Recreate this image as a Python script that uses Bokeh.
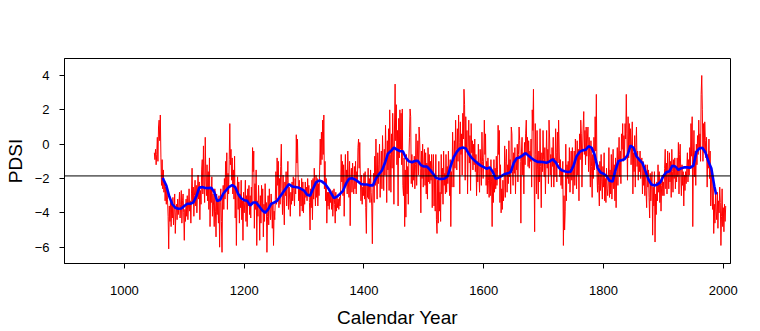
from bokeh.plotting import figure
from bokeh.models import ColumnDataSource, Span, FixedTicker
from bokeh.embed import file_html
from bokeh.resources import INLINE

# ---- data ----
first_year = 1050
pdsi_annual = [
    -0.5, -0.9, -0.3, -1.2, -0.6, 0.4, -1.0, 1.0, 1.4, 0.2,
    1.7, -0.8, -2.4, -0.9, -2.6, -1.5, -2.8, -2.1, -3.3, -2.5,
    -3.5, -2.6, -3.2, -4.2, -6.1, -3.6, -4.5, -3.2, -4.8, -3.4,
    -4.3, -3.1, -4.7, -3.8, -2.9, -5.2, -4.0, -3.5, -4.4, -3.2,
    -4.1, -3.6, -2.8, -4.3, -3.5, -2.7, -4.6, -3.3, -2.9, -4.0,
    -5.6, -3.8, -4.5, -3.2, -4.2, -3.0, -4.4, -3.6, -2.6, -3.9,
    -3.3, -4.6, -2.9, -1.4, -3.4, -2.5, -4.2, -3.0, -2.1, -3.6,
    -2.4, -4.0, -2.8, -1.8, -3.2, -2.2, -4.4, -2.7, -3.5, -1.5,
    -0.9, -2.9, -0.1, -2.4, -3.4, 0.4, -1.9, -3.0, -1.2, -3.3,
    -1.6, -3.8, -0.8, -4.8, -2.6, -3.4, -1.9, -4.2, -2.9, -3.6,
    -4.8, -2.6, -3.9, -5.4, -2.9, -4.1, -3.3, -4.6, -3.0, -6.0,
    -3.4, -2.6, -4.5, -6.3, -3.1, -2.4, -3.8, -2.0, -3.2, -1.0,
    -2.6, -0.5, -3.8, -1.7, -2.9, -0.9, 1.2, -1.2, -0.3, -2.1,
    -0.8, -2.9, -1.5, -3.2, -0.7, -4.3, -2.6, -5.9, -3.1, -1.9,
    -3.8, -2.2, -4.6, -2.9, -3.7, -2.1, -4.4, -3.3, -5.6, -2.8,
    -4.0, -3.4, -2.1, -4.5, -3.0, -4.8, -2.6, -3.6, -2.4, -4.1,
    -3.0, -4.3, -2.5, -3.5, -0.2, -1.6, -0.4, -4.9, -2.3, -3.8,
    -1.5, -5.9, -3.3, -4.2, -2.4, -3.6, -5.6, -3.0, -4.6, -2.4,
    -3.9, -2.6, -5.4, -3.5, -4.5, -2.3, -4.0, -3.4, -6.3, -4.2,
    -3.0, -4.7, -2.6, -3.8, -4.4, -2.9, -3.6, -4.9, -3.4, -5.9,
    -3.9, -4.4, -3.2, -1.6, -3.5, -0.8, -2.4, -1.0, -3.7, -2.0,
    -3.5, -1.3, 0.0, -2.6, -4.1, -1.8, -3.3, -4.7, -2.2, -3.0,
    -1.6, -3.6, -2.1, -1.0, -3.8, -2.5, -3.2, -4.2, -2.8, -3.5,
    -2.2, -3.3, -1.9, -2.7, -3.6, -2.0, -2.9, 0.55, -1.1, 0.3,
    -1.8, -3.3, -2.1, -4.2, -2.5, -3.6, -2.0, -3.9, -2.2, -4.0,
    -2.7, -3.5, -2.2, -3.1, -2.5, -3.3, -2.0, -3.0, -2.4, -3.4,
    -5.0, -2.6, -3.7, -2.1, -4.4, -2.0, -3.2, -1.4, -2.5, -3.6,
    -1.8, -3.1, -2.0, -3.6, -2.3, -3.0, -1.5, 0.3, -1.2, 0.7,
    -0.9, 1.4, -0.6, 1.7, -2.6, -1.0, -3.3, -2.0, -4.6, -2.8,
    -3.6, -2.8, -3.8, -2.6, -3.4, -2.9, -3.8, -2.7, -4.2, -3.2,
    -2.6, -3.5, -4.6, -2.8, -3.9, -3.1, -3.7, -3.2, -3.8, -3.1,
    -3.6, -2.9, -0.6, -2.2, -1.0, -3.0, -1.2, -4.2, -1.9, -0.6,
    -2.4, -1.5, -2.9, -0.4, -2.2, -3.1, -1.0, -4.75, -2.0, -1.4,
    -2.8, -1.1, -2.5, -2.9, -1.3, -2.6, -1.0, -2.9, -1.6, -2.2,
    -0.2, 0.3, -1.4, 0.1, -2.1, -3.3, -1.8, -3.5, -2.5, -3.0,
    -1.7, -3.2, -1.6, -3.7, -5.2, -2.4, -3.1, -1.4, -3.2, -2.0,
    -3.4, -1.5, -2.8, -3.6, -5.8, -2.6, -1.7, -3.4, -0.7, -2.4,
    0.3, -1.9, -3.2, -0.5, -2.3, -1.2, 0.0, -3.1, -1.6, -0.4,
    -2.6, 0.5, -1.1, -2.7, -0.3, -1.8, 1.1, -0.8, -3.4, 0.2,
    -1.5, 0.9, -2.7, 2.0, -0.6, -2.8, 0.6, -1.4, 1.8, -0.2,
    -3.5, 1.0, 3.5, 0.2, 2.3, -1.2, 0.8, -3.6, 1.5, -0.8,
    2.0, -0.3, 1.8, -1.2, 2.05, -2.4, -3.0, -0.8, -4.8, -1.5,
    -4.25, -0.6, -2.9, -1.3, -3.5, -0.8, 0.4, 2.05, 1.6, -2.3,
    -0.6, -2.5, -1.0, -2.1, -0.7, -2.6, -1.2, 0.6, -2.4, -0.9,
    0.2, -1.8, 1.0, 0.3, -1.4, -4.0, -0.4, -2.0, 0.0, -2.5,
    -1.2, -0.3, -2.4, -0.5, -2.9, -1.1, -3.2, -0.2, -2.2, -0.6,
    -2.3, -1.0, -2.1, -0.6, -3.7, -1.4, -0.6, -3.6, -1.9, -3.9,
    -0.6, -4.4, -5.2, -2.1, -4.6, -1.0, -3.9, -2.8, -4.5, -0.6,
    -2.9, -1.4, -3.5, -0.4, -2.4, -1.7, -2.9, -0.6, -2.8, -1.3,
    -2.3, -0.4, -1.9, -3.0, -0.9, -4.8, -1.6, -2.5, 0.7, -0.8,
    -2.5, 0.2, -1.4, 1.4, -0.3, -1.5, 0.9, -1.0, 1.7, 0.1,
    -2.9, 1.3, -0.6, 0.6, -1.8, 1.8, 0.3, 3.2, 2.3, -2.1,
    1.6, -0.4, 0.8, -2.9, -0.2, 1.4, -1.1, 0.5, -2.7, 1.2,
    -0.5, 0.2, -1.5, 0.0, -1.2, 0.3, -1.6, -0.6, -3.0, -1.0,
    -2.2, 0.0, -1.7, -2.8, -0.3, -1.2, -2.4, 0.7, -1.0, -2.0,
    -0.8, 1.4, -0.6, 0.6, -2.4, -1.0, -2.9, -0.8, -2.1, -3.1,
    -1.4, -3.0, -0.9, -2.2, -4.8, -1.8, -3.4, -0.9, -2.8, -1.4,
    -2.6, -0.7, -2.4, -1.5, 1.1, -0.6, 0.8, -3.4, -1.2, -4.0,
    -2.6, -3.8, -2.1, -3.3, -2.5, -0.1, -3.1, -1.0, -0.3, -2.8,
    -1.2, -2.3, 0.2, -1.9, -0.9, -2.9, 1.0, 0.6, -1.6, -2.4,
    -0.5, -1.7, -0.2, -2.9, -0.9, -1.5, 0.0, -2.2, -0.6, 1.0,
    0.2, -1.0, -4.6, -0.4, 0.4, -1.8, -0.5, -2.9, 0.1, -1.2,
    0.6, 1.4, -0.6, 0.4, -1.3, 0.2, -1.4, -0.4, -1.0, 0.3,
    -2.5, 2.0, 0.8, 3.2, -1.2, -5.1, 1.2, -0.6, -2.9, 0.8,
    -1.5, -3.2, -0.4, -2.2, 0.9, -1.3, -3.7, -0.5, -1.6, 0.8,
    -0.9, -1.9, -0.2, -2.9, -1.0, 0.8, -1.4, -0.3, -2.3, 1.4,
    0.3, -1.8, -0.6, -2.5, -0.2, -1.3, 0.4, -2.5, -0.8, -1.9,
    0.9, -0.5, -2.2, 0.7, -1.1, 1.4, -0.4, -1.9, -0.9, -2.4,
    -1.5, -2.6, -1.0, -5.9, -3.0, -5.0, -3.9, 0.0, -3.3, -1.2,
    -2.0, -1.0, -2.3, -0.2, -2.8, -1.4, -0.4, -2.1, -0.2, -2.9,
    -1.5, -0.4, -2.4, 0.3, -1.0, -2.6, 0.2, -1.8, -0.3, -3.3,
    0.6, -0.9, 1.4, 0.6, -2.5, -0.4, 1.0, 1.9, -0.6, 0.8,
    -1.2, 1.0, -0.7, 0.3, 1.0, -1.6, 0.4, -0.8, -2.5, 0.2,
    -1.3, -3.1, -0.6, -2.0, 0.4, -1.5, 1.6, -0.4, 2.9, -1.6,
    -2.8, -1.2, -2.4, -3.6, -1.0, -2.7, -0.6, -2.2, -3.2, -1.3,
    -2.5, -0.5, -3.3, -2.0, -3.4, -1.4, -2.6, -3.0, -2.2, -0.2,
    -3.1, -1.5, -2.9, -0.6, -3.2, -1.8, -0.3, -2.6, -1.2, -3.3,
    -0.8, -3.7, -1.6, -0.2, -2.4, -0.9, 0.4, -1.9, -0.4, -2.3,
    0.6, -0.3, 1.2, -1.0, 0.5, -0.9, 1.2, 0.3, 2.9, 0.6,
    -2.1, 1.6, -0.8, 1.2, -0.3, 0.9, -1.2, 0.0, 1.3, -2.9,
    -0.5, -1.6, 0.5, -2.5, -0.2, 1.0, -1.3, -0.4, -2.1, -0.8,
    -1.6, -0.4, -2.0, -1.1, -0.8, -2.9, -1.0, -2.4, -1.3, -3.0,
    -1.2, -2.7, -3.7, -1.2, -2.5, -1.5, -3.1, -4.3, -1.7, -3.3,
    -2.2, -1.6, -5.3, -2.5, -3.6, -1.6, -5.7, -2.9, -4.1, -2.2,
    -3.3, -1.2, -2.8, -1.6, -3.4, -2.1, -3.9, -2.4, -1.8, -3.0,
    -2.2, -3.0, -1.4, -0.3, -2.6, -1.1, -2.9, -0.4, -1.7, -2.6,
    -0.5, -2.2, -1.0, -3.1, -0.3, -1.6, -2.8, -0.9, -2.0, -0.8,
    -2.6, -1.4, -2.2, -0.8, -1.9, 0.1, -2.9, -0.6, 0.0, -1.8,
    -3.0, -1.2, -2.4, -1.6, -3.6, -1.8, -2.7, -1.6, -2.3, -1.4,
    -0.5, -2.2, -0.9, -1.8, -0.2, -1.3, 1.2, -0.7, 1.6, -4.8,
    -1.0, 0.8, -1.9, -0.4, -2.4, 0.0, -1.2, 0.5, -0.6, 1.4,
    -0.3, 0.6, -1.0, 2.9, 4.0, 2.0, -1.0, 1.2, -0.5, 1.3,
    0.2, -0.8, 0.4, -2.5, -0.6, -1.4, 0.3, -2.0, -0.4, -3.6,
    -1.5, -2.6, -3.8, -2.0, -5.2, -3.5, -4.6, -2.9, -3.9, -4.4,
    -2.8, -4.9, -3.3, -4.0, -2.5, -3.4, -5.9, -4.2, -2.6, -4.8,
    -3.7, -5.1, -3.5, -4.5, -3.6,
]
annual_years = list(range(first_year, first_year + len(pdsi_annual)))

smooth_years = [1064, 1065, 1070, 1075, 1080, 1085, 1090, 1095, 1100, 1105, 1110, 1115,
                1120, 1125, 1130, 1135, 1140, 1145, 1150, 1155, 1160, 1165, 1170, 1175,
                1180, 1185, 1190, 1195, 1200, 1205, 1210, 1215, 1220, 1225, 1230, 1235,
                1240, 1245, 1250, 1255, 1260, 1265, 1270, 1275, 1280, 1285, 1290, 1295,
                1300, 1305, 1310, 1315, 1320, 1325, 1330, 1335, 1340, 1345, 1350, 1355,
                1360, 1365, 1370, 1375, 1380, 1385, 1390, 1395, 1400, 1405, 1410, 1415,
                1420, 1425, 1430, 1435, 1440, 1445, 1450, 1455, 1460, 1465, 1470, 1475,
                1480, 1485, 1490, 1495, 1500, 1505, 1510, 1515, 1520, 1525, 1530, 1535,
                1540, 1545, 1550, 1555, 1560, 1565, 1570, 1575, 1580, 1585, 1590, 1595,
                1600, 1605, 1610, 1615, 1620, 1625, 1630, 1635, 1640, 1645, 1650, 1655,
                1660, 1665, 1670, 1675, 1680, 1685, 1690, 1695, 1700, 1705, 1710, 1715,
                1720, 1725, 1730, 1735, 1740, 1745, 1750, 1755, 1760, 1765, 1770, 1775,
                1780, 1785, 1790, 1795, 1800, 1805, 1810, 1815, 1820, 1825, 1830, 1835,
                1840, 1845, 1850, 1855, 1860, 1865, 1870, 1875, 1880, 1885, 1890, 1895,
                1900, 1905, 1910, 1915, 1920, 1925, 1930, 1935, 1940, 1945, 1950, 1955,
                1960, 1965, 1970, 1975, 1980, 1985, 1988]
smooth_pdsi = [-1.96, -2.05, -2.41, -3.05, -3.50, -3.70, -3.76, -3.75, -3.60, -3.47, -3.47, -3.40,
               -3.05, -2.53, -2.50, -2.55, -2.56, -2.54, -2.79, -3.32, -3.24, -2.89, -2.68, -2.48,
               -2.38, -2.50, -2.90, -3.15, -3.26, -3.30, -3.57, -3.40, -3.40, -3.62, -3.85, -4.00,
               -3.80, -3.48, -3.40, -3.30, -3.05, -2.80, -2.55, -2.33, -2.46, -2.49, -2.52, -2.60,
               -2.70, -2.95, -3.00, -2.60, -2.22, -2.12, -2.18, -2.31, -2.55, -2.85, -3.14, -3.05,
               -2.90, -2.72, -2.30, -2.02, -1.98, -2.06, -2.18, -2.32, -2.35, -2.35, -2.40, -2.40,
               -2.00, -1.75, -1.53, -1.10, -0.55, -0.40, -0.20, -0.32, -0.41, -0.41, -0.80, -1.00,
               -1.05, -0.98, -0.97, -1.22, -1.30, -1.30, -1.48, -1.70, -1.95, -2.02, -2.02, -2.00,
               -1.85, -1.25, -0.75, -0.45, -0.25, -0.20, -0.25, -0.56, -0.80, -0.97, -1.12, -1.25,
               -1.34, -1.43, -1.35, -1.60, -2.02, -1.95, -1.85, -1.74, -1.70, -1.62, -1.10, -0.82,
               -0.77, -0.65, -0.52, -0.68, -0.82, -0.95, -1.03, -1.02, -1.05, -1.08, -1.00, -0.88,
               -1.05, -1.35, -1.52, -1.58, -1.62, -1.60, -1.25, -0.70, -0.45, -0.36, -0.33, -0.12,
               -0.20, -0.60, -1.38, -1.65, -1.72, -1.85, -2.13, -2.18, -1.50, -0.98, -0.93, -0.88,
               -0.65, -0.08, -0.21, -0.70, -0.92, -1.10, -1.57, -2.05, -2.35, -2.40, -2.35, -2.21,
               -1.85, -1.63, -1.58, -1.25, -1.30, -1.50, -1.40, -1.34, -1.35, -1.37, -1.25, -0.45,
               -0.25, -0.21, -0.47, -1.00, -1.40, -2.45, -2.93]

reference_level = -1.85
x_ticks = [1000, 1200, 1400, 1600, 1800, 2000]
y_ticks = [-6, -4, -2, 0, 2, 4]

# ---- figure ----
p = figure(width=760, height=331, output_backend="svg", toolbar_location=None,
           x_range=(900, 2012), y_range=(-6.95, 4.99),
           min_border_left=64, min_border_right=30, min_border_top=58, min_border_bottom=68)
p.background_fill_color = "white"
p.border_fill_color = "white"
p.outline_line_color = "black"
p.outline_line_width = 1
p.grid.visible = False

annual = ColumnDataSource(dict(year=annual_years, pdsi=pdsi_annual))
smooth = ColumnDataSource(dict(year=smooth_years, pdsi=smooth_pdsi))

p.line("year", "pdsi", source=annual, line_color="#FF0000", line_width=1)
p.line("year", "pdsi", source=smooth, line_color="#0000FF", line_width=2.6)
p.add_layout(Span(location=reference_level, dimension="width", line_color="black", line_width=1))

font = "Liberation Sans"
for ax in (p.xaxis[0], p.yaxis[0]):
    ax.major_tick_out = 5
    ax.major_tick_in = 0
    ax.minor_tick_out = 0
    ax.minor_tick_in = 0
    ax.axis_line_color = "black"
    ax.major_tick_line_color = "black"
    ax.major_label_text_font = font
    ax.major_label_text_font_size = "13px"
    ax.major_label_text_color = "black"
    ax.axis_label_text_font = font
    ax.axis_label_text_font_size = "19px"
    ax.axis_label_text_font_style = "normal"
    ax.axis_label_text_color = "black"

p.xaxis[0].ticker = FixedTicker(ticks=x_ticks)
p.yaxis[0].ticker = FixedTicker(ticks=y_ticks)
p.xaxis[0].axis_label = "Calendar Year"
p.yaxis[0].axis_label = "PDSI"
p.xaxis[0].major_label_standoff = 17
p.xaxis[0].axis_label_standoff = 9
p.yaxis[0].major_label_standoff = 10
p.yaxis[0].axis_label_standoff = 6

open("out.html", "w").write(file_html(p, INLINE))
